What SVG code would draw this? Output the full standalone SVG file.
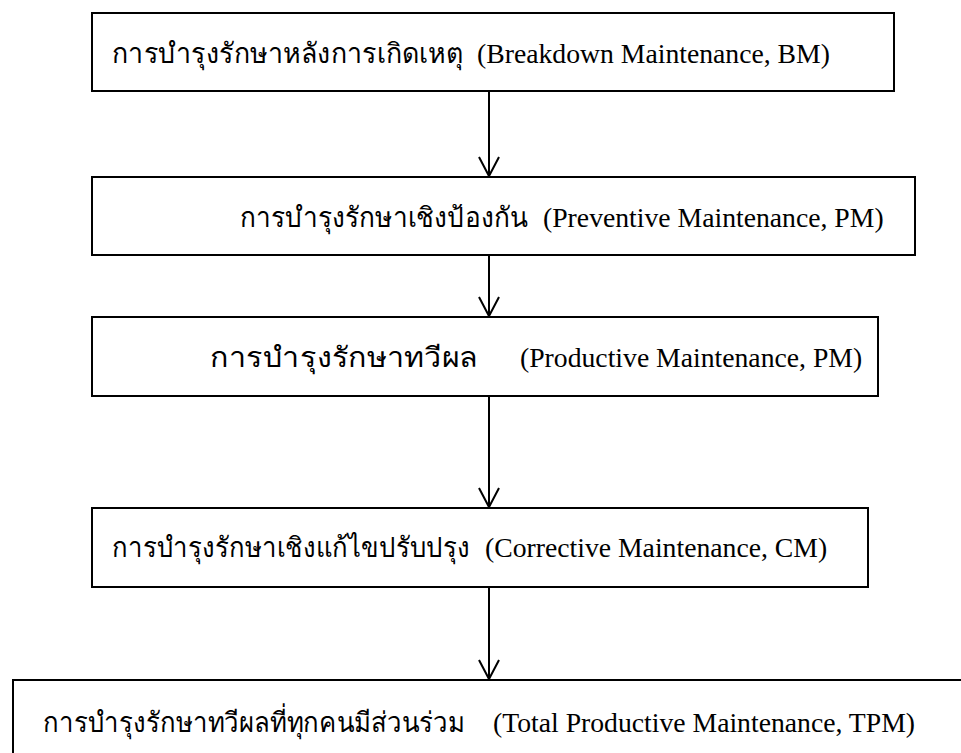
<svg xmlns="http://www.w3.org/2000/svg" width="961" height="753" viewBox="0 0 961 753">
<style>
.box{fill:#fff;stroke:#000;stroke-width:2}
.t{font-family:"Liberation Serif","Times New Roman",serif;font-size:27.7px;fill:#000}
.th{font-family:"Liberation Serif","Noto Sans",serif;font-size:27.7px;fill:#000}
.c{stroke:#000;stroke-width:2;fill:none}
</style>
<defs>
<marker id="ah" markerWidth="24" markerHeight="24" refX="20" refY="12" orient="auto" markerUnits="userSpaceOnUse">
<path d="M1,2 L20,12 L1,22" fill="none" stroke="#000" stroke-width="2"/>
</marker>
</defs>
<rect width="961" height="753" fill="#fff"/>
<g id="connectors">
<line class="c" x1="489" y1="91" x2="489" y2="176" marker-end="url(#ah)"/>
<line class="c" x1="489" y1="255" x2="489" y2="316" marker-end="url(#ah)"/>
<line class="c" x1="489" y1="396" x2="489" y2="507" marker-end="url(#ah)"/>
<line class="c" x1="489" y1="587" x2="489" y2="679" marker-end="url(#ah)"/>
</g>
<g id="n1">
<rect class="box" x="92" y="13" width="802" height="78"/>
<text class="th" x="112" y="63" textLength="351" lengthAdjust="spacingAndGlyphs">การบำรุงรักษาหลังการเกิดเหตุ</text>
<text class="t" x="477" y="63">(Breakdown Maintenance, BM)</text>
</g>
<g id="n2">
<rect class="box" x="92" y="177" width="823" height="78"/>
<text class="th" x="240" y="227" textLength="288" lengthAdjust="spacingAndGlyphs">การบำรุงรักษาเชิงป้องกัน</text>
<text class="t" x="543" y="227">(Preventive Maintenance, PM)</text>
</g>
<g id="n3">
<rect class="box" x="92" y="317" width="786" height="79"/>
<text class="th" x="210" y="367" textLength="268" lengthAdjust="spacingAndGlyphs">การบำรุงรักษาทวีผล</text>
<text class="t" x="520" y="367">(Productive Maintenance, PM)</text>
</g>
<g id="n4">
<rect class="box" x="92" y="508" width="776" height="79"/>
<text class="th" x="112" y="557" textLength="358" lengthAdjust="spacingAndGlyphs">การบำรุงรักษาเชิงแก้ไขปรับปรุง</text>
<text class="t" x="485" y="557">(Corrective Maintenance, CM)</text>
</g>
<g id="n5">
<rect class="box" x="13" y="680" width="960" height="100"/>
<text class="th" x="43" y="732" textLength="422" lengthAdjust="spacingAndGlyphs">การบำรุงรักษาทวีผลที่ทุกคนมีส่วนร่วม</text>
<text class="t" x="493" y="732">(Total Productive Maintenance, TPM)</text>
</g>
</svg>
